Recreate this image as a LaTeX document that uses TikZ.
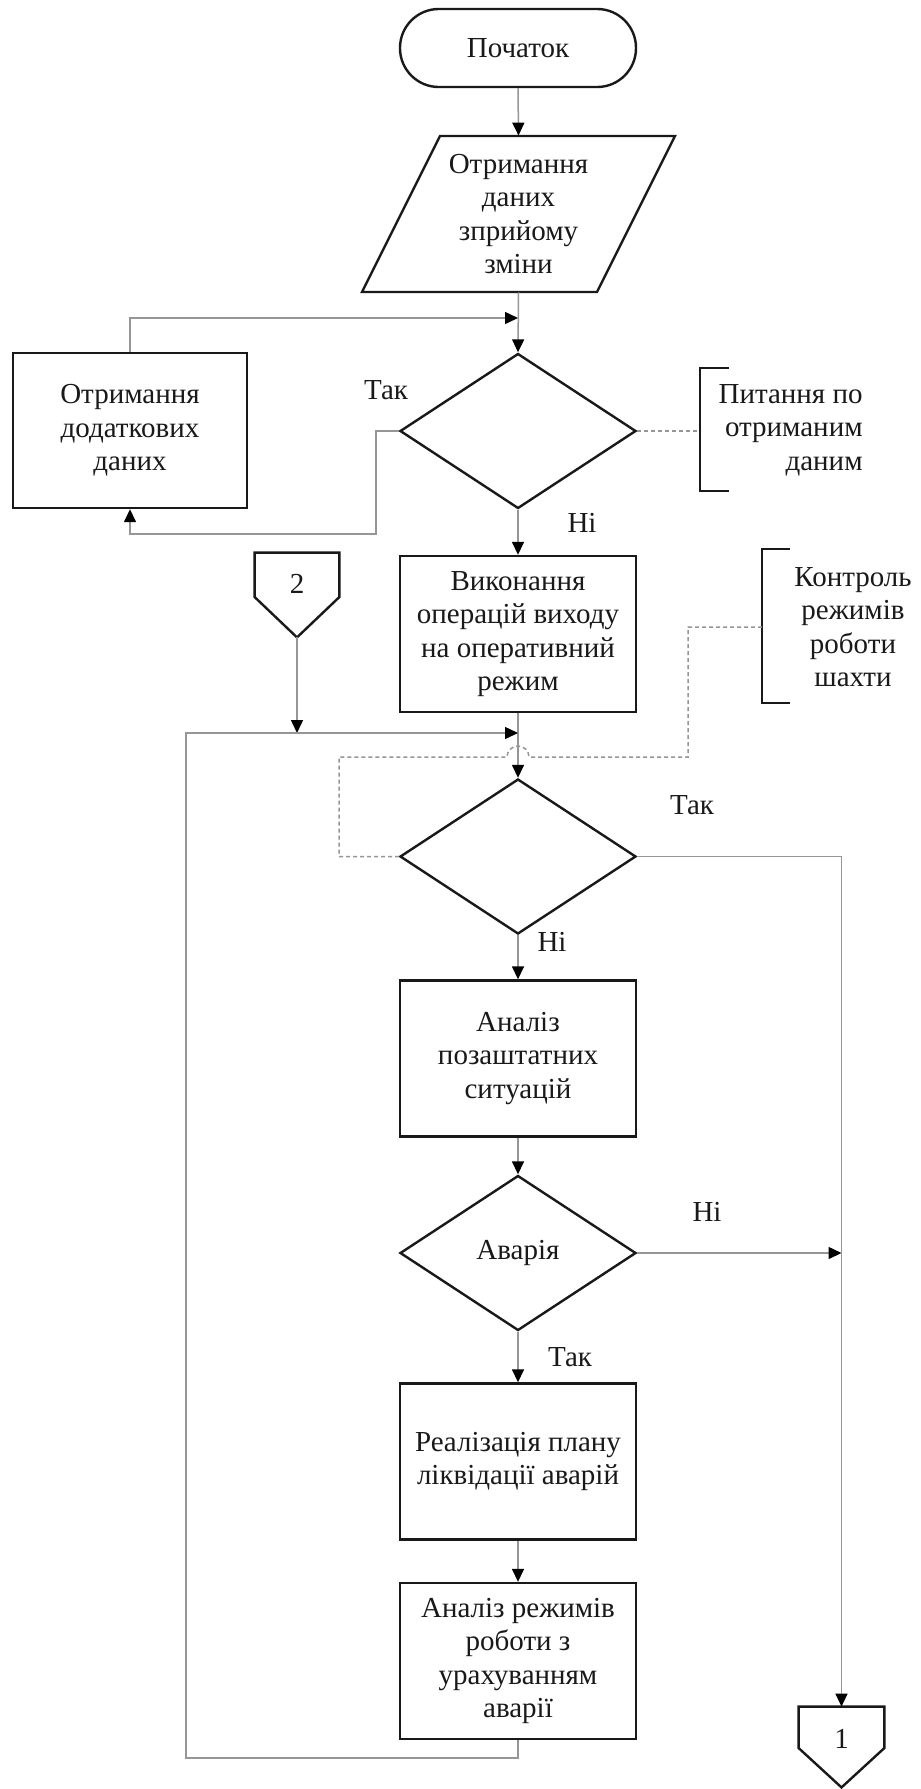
\documentclass[tikz,border=0pt]{standalone}
\usepackage{fontspec}
\setmainfont{Liberation Serif}
\usetikzlibrary{arrows.meta,shapes.geometric,calc}
\definecolor{edge}{RGB}{150,150,150}
\definecolor{ink}{RGB}{25,25,25}

\begin{document}
\begin{tikzpicture}[x=0.5pt,y=-0.5pt,
  txt/.style={font=\fontsize{14.5}{16.75}\selectfont, text=ink, align=center, inner sep=0pt},
  shapebox/.style={txt, draw=ink, line width=1.2pt},
  procbox/.style={shapebox, rectangle, minimum width=118pt, minimum height=78pt},
  decision/.style={shapebox, diamond, minimum width=118pt, minimum height=77.5pt},
  terminal/.style={shapebox, rectangle, rounded corners=19.4pt, minimum width=118pt, minimum height=39pt},
  flow/.style={draw=edge, line width=0.75pt},
  arrowflow/.style={flow, -{Triangle[length=6.5pt,width=6pt,color=black]}},
  dashflow/.style={draw=edge, line width=0.75pt, dash pattern=on 2pt off 1.5pt},
  bracket/.style={draw=ink, line width=1.2pt},
  lbl/.style={txt},
]
\fill[white] (0,0) rectangle (921,1789);
\useasboundingbox (0,0) rectangle (921,1789);

% main column
\node[terminal] (start) at (518,48) {Початок};
\node[txt, minimum width=118pt, minimum height=78pt] (par) at (518.5,214) {Отримання\\даних\\зприйому\\зміни};
\draw[ink, line width=1.2pt] ($(par)+(-78.5,-78)$) -- ($(par)+(156.5,-78)$) -- ($(par)+(78.5,78)$) -- ($(par)+(-156.5,78)$) -- cycle;
\node[decision] (d1) at (518,431) {};
\node[procbox, minimum width=117pt, minimum height=77.5pt] (lbox) at (130,430.5) {Отримання\\додаткових\\даних};
\node[procbox] (b2) at (518,634) {Виконання\\операцій виходу\\на оперативний\\режим};
\node[decision] (d2) at (518,856.5) {};
\node[procbox] (b3) at (518,1058.5) {Аналіз\\позаштатних\\ситуацій};
\node[decision] (d3) at (518,1253) {Аварія};
\node[procbox] (b4) at (518,1461.5) {Реалізація плану\\ліквідації аварій};
\node[procbox] (b5) at (518,1661) {Аналіз режимів\\роботи з\\урахуванням\\аварії};

% off-page connectors
\node[minimum width=42pt, minimum height=42pt, inner sep=0pt] (c2) at (297,595) {};
\draw[ink, line width=1.2pt] (c2.north west) -- (c2.north east) -- ($(c2.east)+(0,2)$) -- (c2.south) -- ($(c2.west)+(0,2)$) -- cycle;
\node[txt] (c2num) at (297,584) {2};
\node[minimum width=42.5pt, minimum height=40pt, inner sep=0pt] (c1) at (841.5,1747) {};
\draw[ink, line width=1.2pt] (c1.north west) -- (c1.north east) -- ($(c1.east)+(0,1)$) -- (c1.south) -- ($(c1.west)+(0,1)$) -- cycle;
\node[txt] (c1num) at (841.5,1739) {1};

% annotations
\coordinate (n1mid) at (700,431);
\draw[bracket] (729,368) -- (700,368) -- (700,491) -- (729,491);
\node[txt, align=right, anchor=east] (note1) at (863,430) {Питання по\\отриманим\\даним};
\coordinate (n2mid) at (762,627);
\draw[bracket] (790,549) -- (762,549) -- (762,703) -- (790,703);
\node[txt] (note2) at (853,627) {Контроль\\режимів\\роботи\\шахти};

% branch labels
\node[lbl] (yes1) at (386,390) {Так};
\node[lbl] (no1) at (582,523) {Ні};
\node[lbl] (yes2) at (692,805) {Так};
\node[lbl] (no2) at (552,942) {Ні};
\node[lbl] (no3) at (707,1212) {Ні};
\node[lbl] (yes3) at (570,1357) {Так};

% junction points
\coordinate (j1) at (518,318);
\coordinate (t1) at (376,534);
\coordinate (j2) at (518,733);
\coordinate (c2drop) at (297,733);
\coordinate (l1) at (186,1758);
\coordinate (k1) at (688,627);
\coordinate (k2) at (688,757);
\coordinate (k3) at (529,757);
\coordinate (k4) at (339,757);
\coordinate (k5) at (339,856.5);

% connectors
\draw[arrowflow] (start.south) -- (par.north);
\draw[arrowflow] (par.south) -- (d1.north);
\draw[arrowflow] (lbox.north) |- (j1);
\draw[arrowflow] (d1.west) -| (t1) -| (lbox.south);
\draw[arrowflow] (d1.south) -- (b2.north);
\draw[arrowflow] (c2.south) -- (c2drop);
\draw[arrowflow] (b2.south) -- (d2.north);
\draw[arrowflow] (b5.south) |- (l1) |- (j2);
\draw[arrowflow] (d2.east) -| (c1.north);
\draw[arrowflow] (d2.south) -- (b3.north);
\draw[arrowflow] (b3.south) -- (d3.north);
\draw[arrowflow] (d3.east) -- (d3.east -| c1.north);
\draw[arrowflow] (d3.south) -- (b4.north);
\draw[arrowflow] (b4.south) -- (b5.north);

% comment links
\draw[dashflow] (d1.east) -- (n1mid);
\draw[dashflow] (n2mid) -- (k1) -- (k2) -- (k3) arc[start angle=0,end angle=-180,radius=11] -- (k4) -- (k5) -- (d2.west);
\end{tikzpicture}
\end{document}
